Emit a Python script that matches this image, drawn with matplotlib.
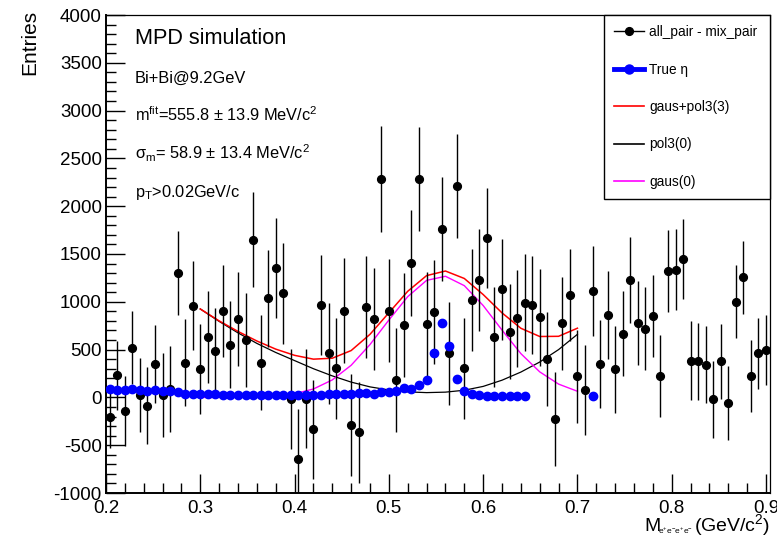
import matplotlib
matplotlib.use("Agg")
import matplotlib.pyplot as plt
from matplotlib.lines import Line2D
from matplotlib.ticker import MultipleLocator

plt.rcParams['font.family'] = ['Liberation Sans', 'DejaVu Sans']
plt.rcParams['mathtext.fontset'] = 'custom'
plt.rcParams['mathtext.rm'] = 'Liberation Sans'
plt.rcParams['mathtext.it'] = 'Liberation Sans:italic'
plt.rcParams['axes.unicode_minus'] = False

# ===============================
# DATOS
# ===============================
# centros de bin (ancho 0.008 GeV/c^2)
x_pares = [0.204 + 0.008 * k for k in range(88)]

all_menos_mix = [
    -200, 230, -140, 520, 25, -85, 350, 25, 90, 1300,
    365, 960, 297, 632, 490, 907, 550, 820, 601, 1647,
    363, 1036, 1357, 1089, -20, -648, -13, -334, 963, 461,
    304, 907, -289, -365, 949, 817, 2285, 907, 182, 754,
    1403, 2285, 765, 894, 1758, 461, 2212, 304, 1016, 1225,
    1667, 634, 1131, 688, 827, 991, 967, 838, 402, -226,
    775, 1068, 220, 77, 1110, 350, 862, 294, 665, 1228,
    775, 719, 852, 224, 1322, 1336, 1451, 384, 377, 342,
    -20, 377, -62, 1002, 1256, 224, 461, 496,
]
err_pares = [
    330, 360, 365, 385, 390, 400, 410, 435, 450, 436,
    450, 462, 475, 485, 450, 480, 455, 488, 490, 497,
    500, 505, 523, 527, 523, 523, 520, 520, 523, 525,
    525, 549, 530, 530, 535, 535, 554, 540, 545, 545,
    554, 544, 545, 545, 545, 540, 540, 528, 532, 532,
    526, 520, 526, 500, 505, 505, 509, 505, 488, 488,
    488, 480, 488, 470, 470, 462, 458, 453, 445, 450,
    440, 435, 430, 425, 427, 425, 420, 410, 405, 400,
    400, 395, 387, 384, 380, 375, 370, 366,
]

# eta verdadero (bins 0..55 y bin 64)
x_eta = [0.204 + 0.008 * k for k in list(range(56)) + [64]]
true_eta = [
    88, 82, 82, 85, 75, 72, 75, 70, 65, 55,
    40, 38, 36, 34, 32, 30, 30, 30, 28, 28,
    28, 26, 25, 24, 22, 22, 25, 28, 30, 32,
    35, 38, 40, 42, 43, 38, 60, 60, 70, 95,
    85, 130, 182, 461, 775, 538, 193, 71, 32, 22,
    15, 15, 12, 12, 12, 12,
    15,
]

# ajustes
x_ajuste = [0.30, 0.32, 0.34, 0.36, 0.38, 0.40, 0.42, 0.44, 0.46, 0.48, 0.50,
            0.52, 0.54, 0.56, 0.58, 0.60, 0.62, 0.64, 0.66, 0.68, 0.70]
gaus_pol3 = [925, 800, 690, 590, 505, 440, 400, 410, 490, 660, 885,
             1110, 1274, 1322, 1244, 1076, 884, 723, 637, 639, 724]
pol3 = [925, 795, 675, 565, 470, 385, 300, 225, 160, 110, 78,
        58, 50, 55, 75, 115, 180, 265, 370, 500, 660]
gaus = [0, 0, 2, 5, 15, 38, 88, 183, 336, 553, 809,
        1054, 1224, 1267, 1169, 961, 704, 458, 267, 139, 64]

# ===============================
# GRAFICO
# ===============================
fig = plt.figure(figsize=(7.77, 5.39), dpi=100)
ax = fig.add_axes([106 / 777, 46 / 539, 663.8 / 777, 478 / 539])

ax.plot(x_ajuste, pol3, color='black', lw=0.9, zorder=2)
ax.plot(x_ajuste, gaus, color='#ff00ff', lw=1.0, zorder=2)
ax.plot(x_ajuste, gaus_pol3, color='#ff0000', lw=1.1, zorder=2)

ax.errorbar(x_pares, all_menos_mix, yerr=err_pares, fmt='o', color='black',
            ms=5.6, elinewidth=1.0, capsize=0, zorder=3)
ax.plot(x_eta, true_eta, 'o', color='#0000ff', ms=6.0, zorder=4)

ax.set_xlim(0.2, 0.904)
ax.set_ylim(-1000, 4000)
ax.xaxis.set_major_locator(MultipleLocator(0.1))
ax.xaxis.set_minor_locator(MultipleLocator(0.02))
ax.yaxis.set_major_locator(MultipleLocator(500))
ax.yaxis.set_minor_locator(MultipleLocator(100))
ax.tick_params(which='both', direction='in', top=False, right=False,
               labelsize=13.5, width=1.0)
ax.tick_params(axis='x', which='major', length=13.5, pad=5)
ax.tick_params(axis='y', which='major', length=13.5, pad=3)
ax.tick_params(which='minor', length=7)
ax.set_xticklabels([f"{v:.1f}" for v in ax.get_xticks()])
for s in ['left', 'bottom']:
    ax.spines[s].set_linewidth(1.4)
for s in ['top', 'right']:
    ax.spines[s].set_linewidth(0.9)

# titulos de ejes
fig.text(30 / 777, 1 - 10 / 539, "Entries", rotation=90, ha='center',
         va='top', fontsize=15)
fig.text(644 / 777, 1 - 531 / 539, "M", ha='left', va='baseline', fontsize=14)
fig.text(658 / 777, 1 - 534 / 539, r"e$^{+}$e$^{-}$e$^{+}$e$^{-}$",
         ha='left', va='baseline', fontsize=6)
fig.text(770 / 777, 1 - 531 / 539, r"(GeV/c$^{2}$)", ha='right',
         va='baseline', fontsize=14)

tx = 135 / 777
fig.text(tx, 1 - 43.5 / 539, "MPD simulation", fontsize=15.6, va='baseline')
fig.text(tx, 1 - 83.3 / 539, "Bi+Bi@9.2GeV", fontsize=11.8, va='baseline')
fig.text(tx, 1 - 121 / 539, r"m$^{\mathrm{fit}}$=555.8 ± 13.9 MeV/c$^{2}$",
         fontsize=11.8, va='baseline')
fig.text(tx, 1 - 159.5 / 539, r"σ$_{\mathrm{m}}$= 58.9 ± 13.4 MeV/c$^{2}$",
         fontsize=11.8, va='baseline')
fig.text(tx, 1 - 197 / 539, r"p$_{\mathrm{T}}$>0.02GeV/c",
         fontsize=11.8, va='baseline')

handles = [
    Line2D([], [], color='black', lw=1.0, marker='o', ms=5.6),
    Line2D([], [], color='#0000ff', lw=3.5, marker='o', ms=6.5),
    Line2D([], [], color='#ff0000', lw=1.2),
    Line2D([], [], color='black', lw=1.2),
    Line2D([], [], color='#ff00ff', lw=1.2),
]
etiquetas = ["all_pair - mix_pair", "True η", "gaus+pol3(3)", "pol3(0)", "gaus(0)"]
leg = ax.legend(handles, etiquetas, loc='upper left',
                bbox_to_anchor=(0.75, 0.619, 0.25, 0.381), mode='expand',
                borderaxespad=0, fontsize=9.8, labelspacing=1.72,
                borderpad=0.75, handlelength=2.2, handletextpad=0.4,
                fancybox=False, framealpha=1, edgecolor='black')
leg.get_frame().set_linewidth(1.0)

fig.savefig("out.png", dpi=100)
